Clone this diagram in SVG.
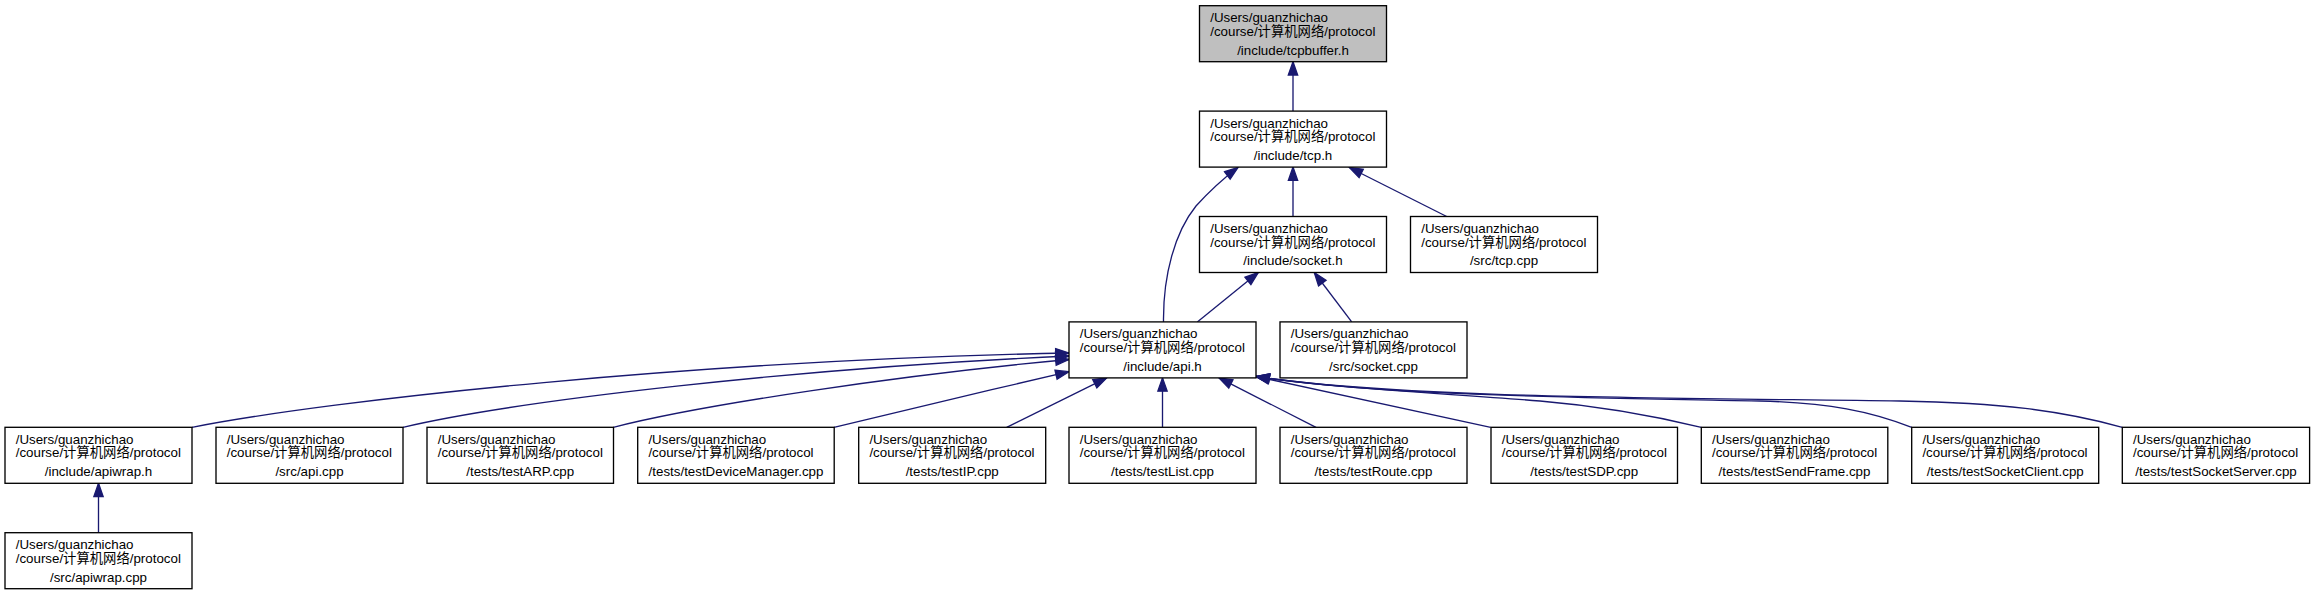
<svg xmlns="http://www.w3.org/2000/svg" width="2315" height="595" viewBox="0 0 2315 595">
<style>
.n rect{fill:#ffffff;stroke:#000000;stroke-width:1.33}
.n.root rect{fill:#bfbfbf}
.n text{font-family:"Liberation Sans","Noto Sans CJK SC",Arial,sans-serif;font-size:13.33px;fill:#000000}
.n text.c{text-anchor:middle}
.e path{fill:none;stroke:#191970;stroke-width:1.33;marker-end:url(#ah)}
</style>
<defs>
<marker id="ah" markerUnits="userSpaceOnUse" viewBox="-1 -6 16 12" markerWidth="16" markerHeight="12" refX="13.3" refY="0" orient="auto" overflow="visible">
<polygon points="0,-4.67 13.3,0 0,4.67" fill="#191970" stroke="#191970" stroke-width="1.33"/>
</marker>
</defs>
<rect x="0" y="0" width="2315" height="595" fill="#ffffff"/>
<g id="edges" class="e">
<path d="M1293,111.1 L1293,61.7"/>
<path d="M1293,216.5 L1293,167.1"/>
<path d="M1446.7,216.5 L1349.3,167.5"/>
<path d="M1163.5,321.9 C1163,275 1175,232 1196,206 C1206,195 1220,181 1238,167.5"/>
<path d="M1197.3,321.9 L1258.3,272.5"/>
<path d="M1351.7,321.9 L1314.3,272.5"/>
<path d="M98.5,532.7 L98.5,483.3"/>
<path d="M192,427.3 C330,400 700,360 1069,353"/>
<path d="M403,427.3 C520,400 800,368 1069,356"/>
<path d="M613.3,427.3 C700,405 900,375 1069,359.5"/>
<path d="M834,427.3 C900,411 990,390 1069,371.7"/>
<path d="M1006.7,427.3 L1106.7,377.9"/>
<path d="M1162.5,427.3 L1162.5,377.9"/>
<path d="M1316,427.3 L1219,377.9"/>
<path d="M1490.7,427.3 L1256,376.5"/>
<path d="M1701.3,427.3 C1650,415 1600,406 1540,401 C1440,393 1330,388 1256,376.5"/>
<path d="M1911.7,427.3 C1870,411 1830,403 1760,401 C1600,398 1380,396 1256,376.5"/>
<path d="M2122.3,427.3 C2060,410 2000,403 1900,401 C1700,398 1400,399 1256,376.5"/>
</g>
<g id="n_tcpbuffer" class="n root">
<rect x="1199.5" y="5.7" width="187" height="56"/>
<text x="1210.2" y="22.2">/Users/guanzhichao</text>
<text x="1210.2" y="35.7">/course/计算机网络/protocol</text>
<text class="c" x="1293" y="54.5">/include/tcpbuffer.h</text>
</g>
<g id="n_tcp_h" class="n">
<rect x="1199.5" y="111.1" width="187" height="56"/>
<text x="1210.2" y="127.6">/Users/guanzhichao</text>
<text x="1210.2" y="141.1">/course/计算机网络/protocol</text>
<text class="c" x="1293" y="159.9">/include/tcp.h</text>
</g>
<g id="n_socket_h" class="n">
<rect x="1199.5" y="216.5" width="187" height="56"/>
<text x="1210.2" y="233">/Users/guanzhichao</text>
<text x="1210.2" y="246.5">/course/计算机网络/protocol</text>
<text class="c" x="1293" y="265.3">/include/socket.h</text>
</g>
<g id="n_tcp_cpp" class="n">
<rect x="1410.5" y="216.5" width="187" height="56"/>
<text x="1421.2" y="233">/Users/guanzhichao</text>
<text x="1421.2" y="246.5">/course/计算机网络/protocol</text>
<text class="c" x="1504" y="265.3">/src/tcp.cpp</text>
</g>
<g id="n_api_h" class="n">
<rect x="1069" y="321.9" width="187" height="56"/>
<text x="1079.7" y="338.4">/Users/guanzhichao</text>
<text x="1079.7" y="351.9">/course/计算机网络/protocol</text>
<text class="c" x="1162.5" y="370.7">/include/api.h</text>
</g>
<g id="n_socket_cpp" class="n">
<rect x="1280" y="321.9" width="187" height="56"/>
<text x="1290.7" y="338.4">/Users/guanzhichao</text>
<text x="1290.7" y="351.9">/course/计算机网络/protocol</text>
<text class="c" x="1373.5" y="370.7">/src/socket.cpp</text>
</g>
<g id="n_apiwrap_h" class="n">
<rect x="5" y="427.3" width="187" height="56"/>
<text x="15.7" y="443.8">/Users/guanzhichao</text>
<text x="15.7" y="457.3">/course/计算机网络/protocol</text>
<text class="c" x="98.5" y="476.1">/include/apiwrap.h</text>
</g>
<g id="n_apiwrap_cpp" class="n">
<rect x="5" y="532.7" width="187" height="56"/>
<text x="15.7" y="549.2">/Users/guanzhichao</text>
<text x="15.7" y="562.7">/course/计算机网络/protocol</text>
<text class="c" x="98.5" y="581.5">/src/apiwrap.cpp</text>
</g>
<g id="n_api_cpp" class="n">
<rect x="216" y="427.3" width="187" height="56"/>
<text x="226.7" y="443.8">/Users/guanzhichao</text>
<text x="226.7" y="457.3">/course/计算机网络/protocol</text>
<text class="c" x="309.5" y="476.1">/src/api.cpp</text>
</g>
<g id="n_testARP" class="n">
<rect x="427" y="427.3" width="186.5" height="56"/>
<text x="437.7" y="443.8">/Users/guanzhichao</text>
<text x="437.7" y="457.3">/course/计算机网络/protocol</text>
<text class="c" x="520.2" y="476.1">/tests/testARP.cpp</text>
</g>
<g id="n_testDeviceManager" class="n">
<rect x="637.7" y="427.3" width="196.5" height="56"/>
<text x="648.4" y="443.8">/Users/guanzhichao</text>
<text x="648.4" y="457.3">/course/计算机网络/protocol</text>
<text class="c" x="736" y="476.1">/tests/testDeviceManager.cpp</text>
</g>
<g id="n_testIP" class="n">
<rect x="858.7" y="427.3" width="187" height="56"/>
<text x="869.4" y="443.8">/Users/guanzhichao</text>
<text x="869.4" y="457.3">/course/计算机网络/protocol</text>
<text class="c" x="952.2" y="476.1">/tests/testIP.cpp</text>
</g>
<g id="n_testList" class="n">
<rect x="1069" y="427.3" width="187" height="56"/>
<text x="1079.7" y="443.8">/Users/guanzhichao</text>
<text x="1079.7" y="457.3">/course/计算机网络/protocol</text>
<text class="c" x="1162.5" y="476.1">/tests/testList.cpp</text>
</g>
<g id="n_testRoute" class="n">
<rect x="1280" y="427.3" width="187" height="56"/>
<text x="1290.7" y="443.8">/Users/guanzhichao</text>
<text x="1290.7" y="457.3">/course/计算机网络/protocol</text>
<text class="c" x="1373.5" y="476.1">/tests/testRoute.cpp</text>
</g>
<g id="n_testSDP" class="n">
<rect x="1491" y="427.3" width="186.5" height="56"/>
<text x="1501.7" y="443.8">/Users/guanzhichao</text>
<text x="1501.7" y="457.3">/course/计算机网络/protocol</text>
<text class="c" x="1584.2" y="476.1">/tests/testSDP.cpp</text>
</g>
<g id="n_testSendFrame" class="n">
<rect x="1701.3" y="427.3" width="186.5" height="56"/>
<text x="1712" y="443.8">/Users/guanzhichao</text>
<text x="1712" y="457.3">/course/计算机网络/protocol</text>
<text class="c" x="1794.5" y="476.1">/tests/testSendFrame.cpp</text>
</g>
<g id="n_testSocketClient" class="n">
<rect x="1911.7" y="427.3" width="187" height="56"/>
<text x="1922.4" y="443.8">/Users/guanzhichao</text>
<text x="1922.4" y="457.3">/course/计算机网络/protocol</text>
<text class="c" x="2005.2" y="476.1">/tests/testSocketClient.cpp</text>
</g>
<g id="n_testSocketServer" class="n">
<rect x="2122.3" y="427.3" width="187.3" height="56"/>
<text x="2133" y="443.8">/Users/guanzhichao</text>
<text x="2133" y="457.3">/course/计算机网络/protocol</text>
<text class="c" x="2216" y="476.1">/tests/testSocketServer.cpp</text>
</g>
</svg>
